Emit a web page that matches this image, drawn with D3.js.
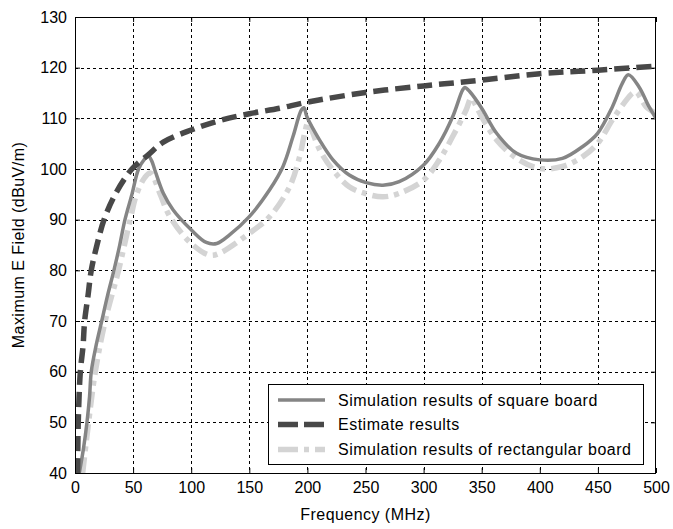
<!DOCTYPE html>
<html>
<head>
<meta charset="utf-8">
<script src="https://cdn.jsdelivr.net/npm/d3@7"></script>
<style>
  html, body { margin: 0; padding: 0; background: #fff; }
  svg { display: block; }
  text { font-family: "Liberation Sans", Arial, sans-serif; fill: #000; }
</style>
</head>
<body>
<svg id="chart" width="673" height="529"></svg>
<script>
// ---------- data ----------
const xTicks = [0, 50, 100, 150, 200, 250, 300, 350, 400, 450, 500];
const yTicks = [40, 50, 60, 70, 80, 90, 100, 110, 120, 130];

const seriesNames = [
  "Simulation results of square board",
  "Estimate results",
  "Simulation results of rectangular board"
];

// Simulation results of square board: [frequency MHz, dBuV/m]
const squareBoard = [
  [3.7,40],[7.4,45],[10.3,50],[12.5,55],[14,60],[18,65],[23,70],[28,75],[33.5,80],[38.5,85],[43,90],
  [49,95],[54.7,100],[60,102],[63,102.6],[66,101.6],[68.7,99.8],[76,95.2],[84.5,91.9],[100,88],
  [113,85.5],[122,85.3],[133,87],[150,90.6],[167.5,95.9],[179,100.5],[187.6,106.4],[194.7,111.6],
  [197,112.1],[199.6,110.3],[210.5,105.7],[222,101.8],[236,98.8],[250.6,97.3],[265,96.8],[279,97.5],
  [300,100.8],[313.6,105.1],[325,110.3],[333.6,115.6],[335.5,116.1],[340,115.2],[350,112],[363,107],
  [380,103.1],[400,101.8],[419.5,102.1],[436.7,104.4],[449.6,107],[462.5,112.3],[471,116.9],
  [476.2,118.6],[485.4,116.2],[494,112.3],[500,110]
];

// Estimate results
const estimate = [
  [2.2,40],[2.8,50],[4.6,60],[6.9,65],[8.3,70],[11.2,75],[14,80],[18.9,85],[25,90],[34.6,95],
  [49,100],[63,102.8],[76,105.3],[100,107.7],[125,109.6],[150,110.9],[176,112],[200,113.2],
  [250,115.1],[300,116.4],[340,117.3],[400,118.8],[450,119.5],[500,120.3]
];

// Simulation results of rectangular board
const rectBoard = [
  [6.6,40],[11.7,50],[17.5,60],[26,70],[37.5,80],[47.5,90],[53,95],[60,98.3],[65,99.2],[73,95.2],
  [81.6,90.6],[100,85.3],[116,83],[124.6,83.4],[150,87.3],[167.5,90.6],[184.7,96.5],[193.3,102.4],
  [197.6,107],[200.5,109.2],[204,107.5],[210.5,103.8],[222,99.8],[236,96.5],[250.6,95.1],[265,94.5],
  [279,95.2],[300,97.8],[313.6,101.8],[325,106.4],[336.5,111.6],[341,114],[345,112.5],[350,110.3],
  [363,105.7],[380,102.1],[400,100.1],[419.5,100.5],[436.7,102.4],[449.6,105],[462.5,109.7],
  [472.5,113],[480,115],[483,115.2],[491.5,112.3],[500,111]
];

// ---------- layout ----------
const svg = d3.select("#chart");
const L = 75, R = 656, T = 17, B = 473;

const x = d3.scaleLinear().domain([0, 500]).range([L, R]);
const y = d3.scaleLinear().domain([40, 130]).range([B, T]);

// clip
svg.append("defs").append("clipPath").attr("id", "clip")
  .append("rect").attr("x", L).attr("y", T).attr("width", R - L).attr("height", B - T);

// grid
const grid = svg.append("g").attr("stroke", "#000").attr("stroke-width", 1)
  .attr("stroke-dasharray", "3,3").attr("shape-rendering", "crispEdges");
xTicks.slice(1, -1).forEach(t => {
  grid.append("line").attr("x1", Math.round(x(t)) + 0.5).attr("x2", Math.round(x(t)) + 0.5)
    .attr("y1", T).attr("y2", B);
});
yTicks.slice(1, -1).forEach(t => {
  grid.append("line").attr("y1", Math.round(y(t)) + 0.5).attr("y2", Math.round(y(t)) + 0.5)
    .attr("x1", L).attr("x2", R);
});

// axes (ticks inward, box on)
const fs = 16;
const ls = "0.45px";
const axB = svg.append("g").attr("transform", `translate(0,${B})`)
  .call(d3.axisBottom(x).tickValues(xTicks).tickSize(-5).tickPadding(9).tickFormat(d3.format("d")));
const axT = svg.append("g").attr("transform", `translate(0,${T})`)
  .call(d3.axisTop(x).tickValues(xTicks).tickSize(-5).tickFormat(""));
const axL = svg.append("g").attr("transform", `translate(${L},0)`)
  .call(d3.axisLeft(y).tickValues(yTicks).tickSize(-5).tickPadding(8).tickFormat(d3.format("d")));
const axR = svg.append("g").attr("transform", `translate(${R},0)`)
  .call(d3.axisRight(y).tickValues(yTicks).tickSize(-5).tickFormat(""));
[axB, axT, axL, axR].forEach(a => {
  a.select(".domain").remove();
  a.selectAll("line").attr("stroke", "#000");
  a.selectAll("text").attr("font-size", fs).attr("font-family", "Liberation Sans, Arial, sans-serif")
    .attr("fill", "#000");
});

// lines
const line = d3.line().x(d => x(d[0])).y(d => y(d[1])).curve(d3.curveCatmullRom.alpha(0.5));
const plot = svg.append("g").attr("clip-path", "url(#clip)");

const styles = [
  { color: "#858585", width: 3.5, dash: null, data: squareBoard },
  { color: "#484848", width: 5.5, dash: "15,7", data: estimate },
  { color: "#d4d4d4", width: 5.5, dash: "16,6,5,6", data: rectBoard }
];
// draw order: rect (back), square, estimate
[2, 0, 1].forEach(i => {
  const s = styles[i];
  const p = plot.append("path").datum(s.data).attr("d", line)
    .attr("fill", "none").attr("stroke", s.color).attr("stroke-width", s.width)
    .attr("stroke-linejoin", "round");
  if (s.dash) p.attr("stroke-dasharray", s.dash);
});

// frame
svg.append("rect").attr("x", L + 0.5).attr("y", T + 0.5).attr("width", R - L - 1).attr("height", B - T)
  .attr("fill", "none").attr("stroke", "#000").attr("stroke-width", 1).attr("shape-rendering", "crispEdges");

// axis labels
svg.append("text").attr("x", (L + R) / 2).attr("y", 520).attr("text-anchor", "middle")
  .attr("font-size", fs).attr("letter-spacing", ls).text("Frequency (MHz)");
svg.append("text").attr("transform", `translate(24,${(T + B) / 2}) rotate(-90)`)
  .attr("text-anchor", "middle").attr("font-size", fs).attr("letter-spacing", ls).text("Maximum E Field (dBuV/m)");

// legend
const lg = svg.append("g");
const lx = 268, ly = 384, lw = 375, lh = 80;
lg.append("rect").attr("x", lx + 0.5).attr("y", ly + 0.5).attr("width", lw).attr("height", lh)
  .attr("fill", "#fff").attr("stroke", "#000").attr("stroke-width", 1).attr("shape-rendering", "crispEdges");
const rowY = [400, 424.5, 449.5];
seriesNames.forEach((name, i) => {
  const s = styles[i];
  const ln = lg.append("line").attr("x1", 278).attr("x2", 325).attr("y1", rowY[i]).attr("y2", rowY[i])
    .attr("stroke", s.color).attr("stroke-width", s.width);
  if (i === 1) ln.attr("stroke-dasharray", "20,6");
  if (i === 2) ln.attr("stroke-dasharray", "20,6,5,6");
  lg.append("text").attr("x", 338).attr("y", rowY[i]).attr("dy", "0.36em")
    .attr("font-size", fs).attr("letter-spacing", "0.5px").text(name);
});
</script>
</body>
</html>
